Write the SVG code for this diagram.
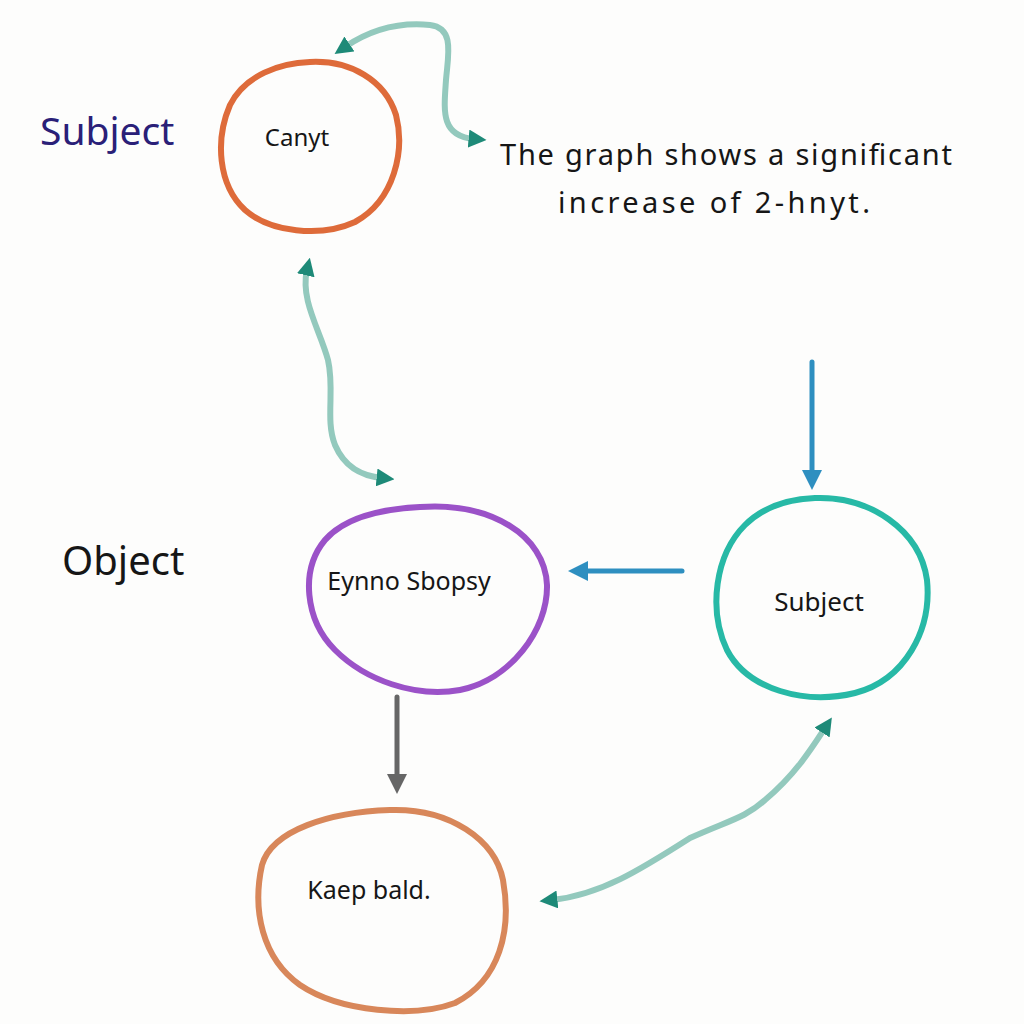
<svg xmlns="http://www.w3.org/2000/svg" width="1024" height="1024" viewBox="0 0 1024 1024">
<defs>
<style>
.lbl{font-family:"Noto Sans","Liberation Sans",sans-serif;fill:#161616}
.node{fill:none;stroke-width:6;stroke-linejoin:round}
.soft{fill:none;stroke:#93c9bd;stroke-width:6;stroke-linecap:round}
.blue{fill:none;stroke:#2e8fc0;stroke-width:5;stroke-linecap:round}
.gray{fill:none;stroke:#666;stroke-width:5;stroke-linecap:round}
</style>
<marker id="tealHead" viewBox="0 0 10 10" refX="3" refY="5" markerWidth="18" markerHeight="18" markerUnits="userSpaceOnUse" orient="auto-start-reverse">
<path d="M0 0 L10 5 L0 10 Z" fill="#1e8a78"/>
</marker>
<marker id="blueHead" viewBox="0 0 10 10" refX="3" refY="5" markerWidth="20" markerHeight="20" markerUnits="userSpaceOnUse" orient="auto">
<path d="M0 0 L10 5 L0 10 Z" fill="#2e8fc0"/>
</marker>
<marker id="grayHead" viewBox="0 0 10 10" refX="3" refY="5" markerWidth="20" markerHeight="20" markerUnits="userSpaceOnUse" orient="auto">
<path d="M0 0 L10 5 L0 10 Z" fill="#666"/>
</marker>
</defs>
<rect width="1024" height="1024" fill="#fdfdfc"/>

<g id="connectors">
<path class="soft" d="M 345 47 C 370 30 400 22 430 25 C 455 28 448 55 446 80 C 444 110 440 136 474 139" marker-start="url(#tealHead)" marker-end="url(#tealHead)"/>
<path class="soft" d="M 307 270 C 300 300 320 330 328 360 C 335 390 325 420 335 445 C 345 468 362 476 382 478" marker-start="url(#tealHead)" marker-end="url(#tealHead)"/>
<path class="soft" d="M 552 900 C 600 895 640 870 690 838 C 730 820 745 818 765 800 C 795 775 812 748 825 728" marker-start="url(#tealHead)" marker-end="url(#tealHead)"/>
<path class="blue" d="M 812 362 L 812 476" marker-end="url(#blueHead)"/>
<path class="blue" d="M 682 571 L 582 571" marker-end="url(#blueHead)"/>
<path class="gray" d="M 397 697 L 397 780" marker-end="url(#grayHead)"/>
</g>

<g id="label-subject">
<text class="lbl" x="40" y="145" font-size="39" style="fill:#2a2078">Subject</text>
</g>
<g id="label-object">
<text class="lbl" x="62" y="575" font-size="40">Object</text>
</g>
<g id="note">
<text class="lbl" x="500" y="165" font-size="29" textLength="452">The graph shows a significant</text>
<text class="lbl" x="558" y="213" font-size="29" textLength="312">increase of 2-hnyt.</text>
</g>

<g id="node-canyt">
<path class="node" stroke="#de6b3a" d="M 310 62 C 350 60 385 80 396 115 C 405 150 395 200 355 222 C 320 238 270 232 245 210 C 218 185 215 140 230 105 C 245 75 280 63 310 62 Z"/>
<text class="lbl" x="297" y="146" font-size="24" text-anchor="middle">Canyt</text>
</g>

<g id="node-eynno">
<path class="node" stroke="#9b52c8" d="M 420 507 C 490 502 545 535 547 585 C 548 630 510 680 460 690 C 415 698 365 680 335 650 C 305 620 300 570 325 540 C 345 517 380 509 420 507 Z"/>
<text class="lbl" x="409" y="590" font-size="25" text-anchor="middle">Eynno Sbopsy</text>
</g>

<g id="node-subject">
<path class="node" stroke="#27b9a6" d="M 815 498 C 870 496 920 530 927 580 C 932 630 905 680 855 693 C 805 705 748 690 727 650 C 708 610 715 555 745 525 C 765 505 790 499 815 498 Z"/>
<text class="lbl" x="819" y="611" font-size="26" text-anchor="middle">Subject</text>
</g>

<g id="node-kaep">
<path class="node" stroke="#d8875a" d="M 390 810 C 450 808 495 840 503 880 C 512 930 500 980 455 1003 C 415 1018 340 1012 300 985 C 262 958 252 910 262 865 C 272 830 330 812 390 810 Z"/>
<text class="lbl" x="369" y="899" font-size="25" text-anchor="middle">Kaep bald.</text>
</g>
</svg>
